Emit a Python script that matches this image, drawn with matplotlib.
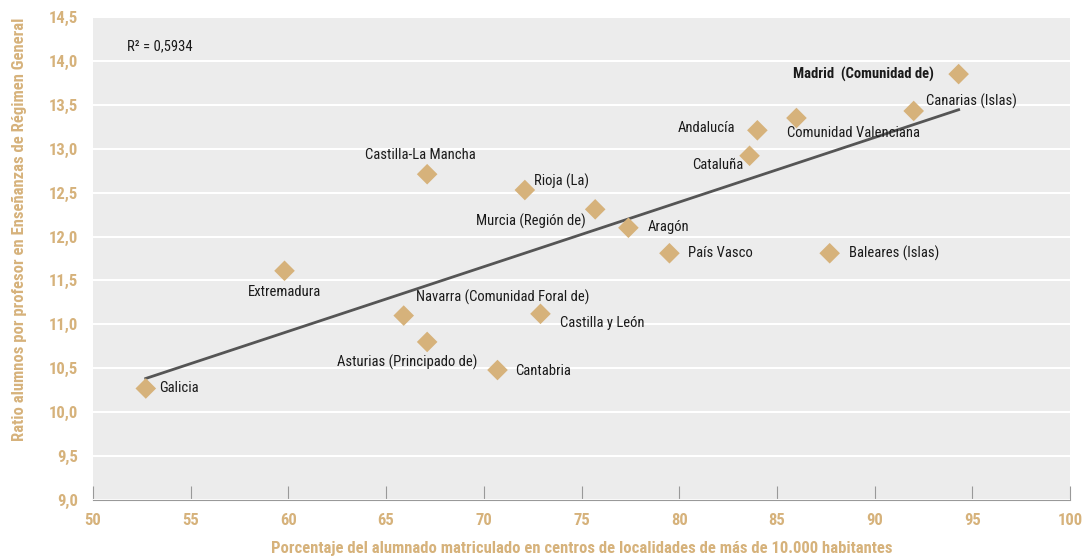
import numpy as np
import matplotlib
matplotlib.use("Agg")
from matplotlib import pyplot as plt
from matplotlib.ticker import FuncFormatter

plt.rcParams['font.family'] = ['Roboto Condensed', 'DejaVu Sans']

# data
regions = ["Galicia", "Extremadura", "Navarra (Comunidad Foral de)", "Asturias (Principado de)",
           "Cantabria", "Castilla y León", "Castilla-La Mancha", "Rioja (La)", "Murcia (Región de)",
           "Aragón", "País Vasco", "Baleares (Islas)", "Cataluña", "Andalucía",
           "Comunidad Valenciana", "Canarias (Islas)", "Madrid  (Comunidad de)"]
pct_urban = [52.7, 59.8, 65.9, 67.1, 70.7, 72.9, 67.1, 72.1, 75.7,
             77.4, 79.5, 87.7, 83.6, 84.0, 86.0, 92.0, 94.3]
ratio = [10.27, 11.61, 11.10, 10.80, 10.48, 11.12, 12.71, 12.53, 12.31,
         12.10, 11.81, 11.81, 12.92, 13.21, 13.35, 13.43, 13.85]
r2_text = "R² = 0,5934"

# label placement (pixel offsets, alignment)
offsets = [(13, 0, 'left'), (0, -21, 'center'), (12, 18, 'left'), (50, -20, 'right'),
           (18, -1, 'left'), (20, -9, 'left'), (-7, 19, 'center'), (9, 9, 'left'), (-9, -12, 'right'),
           (19, 1, 'left'), (19, 0, 'left'), (19, 0, 'left'), (-6, -9, 'right'), (-22, 2, 'right'),
           (-9, -15, 'left'), (12, 10, 'left'), (-25, 0, 'right')]

tan = "#d6b27b"
fig = plt.figure(figsize=(10.83, 5.56), dpi=100)
ax = fig.add_axes([0.0859, 0.1007, 0.9021, 0.8687])
ax.set_facecolor("#ececec")

ax.set_xlim(50, 100)
ax.set_ylim(9, 14.5)
ax.set_xticks(np.arange(50, 101, 5))
ax.set_yticks(np.arange(9, 14.51, 0.5))
ax.yaxis.set_major_formatter(FuncFormatter(lambda v, p: f"{v:.1f}".replace(".", ",")))
ax.grid(axis='y', color='white', linewidth=1.5)
ax.set_axisbelow(True)
for s in ['left', 'right', 'top']:
    ax.spines[s].set_visible(False)
ax.spines['bottom'].set_color('#999999')
ax.tick_params(axis='x', direction='in', length=10, color='#999999', labelcolor=tan, pad=9)
ax.tick_params(axis='y', length=0, labelcolor=tan, pad=11)
for lab in ax.get_xticklabels() + ax.get_yticklabels():
    lab.set_fontweight('bold')
    lab.set_fontsize(12)

# trend line
x = np.array(pct_urban)
y = np.array(ratio)
m, b = np.polyfit(x, y, 1)
xs = np.array([x.min(), x.max()])
ax.plot(xs, m * xs + b, color='#555555', linewidth=2, zorder=2)

ax.scatter(x, y, marker='D', s=110, color=tan, edgecolors='none', zorder=3)

for name, xi, yi, (dx, dy, ha) in zip(regions, pct_urban, ratio, offsets):
    bold = 'bold' if name.startswith("Madrid") else 'normal'
    ax.annotate(name, (xi, yi), xytext=(dx, dy), textcoords='offset pixels',
                ha=ha, va='center', fontsize=10.5, color='#1a1a1a', fontweight=bold)

ax.text(0.035, 0.94, r2_text, transform=ax.transAxes, fontsize=10.5, color='#1a1a1a', va='center')

ax.set_xlabel("Porcentaje del alumnado matriculado en centros de localidades de más de 10.000 habitantes",
              color=tan, fontweight='bold', fontsize=12, labelpad=10)
ax.set_ylabel("Ratio alumnos por profesor en Enseñanzas de Régimen General",
              color=tan, fontweight='bold', fontsize=12, labelpad=12)
ax.yaxis.set_label_coords(-0.068, 0.56)

fig.savefig("out.png", dpi=100)
